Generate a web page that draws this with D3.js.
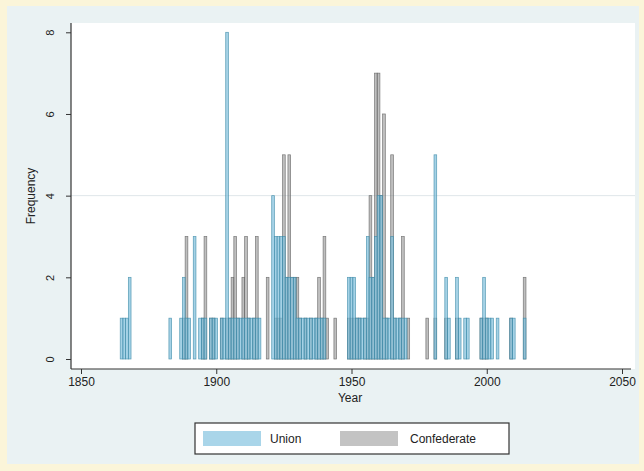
<!DOCTYPE html>
<html>
<head>
<meta charset="utf-8">
<script src="https://cdn.jsdelivr.net/npm/d3@7"></script>
<style>
  html, body { margin: 0; padding: 0; background: #fbf5d9; }
  svg { display: block; }
  text { font-family: "Liberation Sans", Arial, sans-serif; fill: #222; }
</style>
</head>
<body>
<svg id="chart" width="644" height="471"></svg>
<script>
// Dedication year of each monument, counted per year for each side
const years = [1865,1866,1867,1868,1883,1887,1888,1889,1890,1892,1894,1895,1896,1898,1899,1900,
  1902,1903,1904,1905,1906,1907,1908,1909,1910,1911,1912,1913,1914,1915,1916,1919,
  1921,1922,1923,1924,1925,1926,1927,1928,1929,1930,1931,1932,1933,1934,1935,1936,1937,1938,1939,1940,1941,1944,
  1949,1950,1951,1952,1953,1954,1955,1956,1957,1958,1959,1960,1961,1962,1963,1964,1965,1966,1967,1968,1969,1970,1971,
  1978,1981,1985,1986,1989,1990,1992,1993,1998,1999,2000,2001,2002,2004,2009,2010,2014];
const unionCounts = [1,1,1,2,1,1,2,1,1,3,1,1,1,1,1,1,
  1,1,8,1,1,1,1,1,1,1,1,1,1,1,1,0,
  4,3,3,3,3,2,2,2,2,1,1,1,1,1,1,1,1,1,1,1,0,0,
  2,2,2,1,1,1,1,3,2,2,3,4,4,1,1,1,3,1,1,1,1,1,0,
  0,5,2,1,2,1,1,1,1,2,1,1,1,1,1,1,1];
const confederateCounts = [0,0,0,0,0,0,1,3,0,0,0,1,3,1,1,0,
  1,0,1,1,2,3,1,0,2,3,1,0,1,3,0,2,
  0,1,1,1,5,2,5,2,2,2,1,0,1,0,1,0,1,2,1,3,1,1,
  1,1,1,1,1,0,1,1,4,2,7,7,4,6,1,0,5,1,0,1,3,0,1,
  1,1,1,0,1,0,0,0,1,1,1,0,0,0,1,0,2];
const xTicks = [1850, 1900, 1950, 2000, 2050];
const yTicks = [0, 2, 4, 6, 8];
const seriesNames = ["Union", "Confederate"];

const svg = d3.select("#chart");
const W = 644, H = 471;

// graph region
svg.append("rect").attr("x", 7).attr("y", 6).attr("width", W - 12).attr("height", H - 13)
  .attr("fill", "#eaf2f3");
// plot region
const plotL = 71, plotR = 635, plotT = 23, plotB = 369;
svg.append("rect").attr("x", plotL).attr("y", plotT).attr("width", plotR - plotL).attr("height", plotB - plotT)
  .attr("fill", "#ffffff");

const x = d3.scaleLinear().domain([1850, 2050]).range([81, 622]);
const y = d3.scaleLinear().domain([0, 8]).range([359, 32.3]);

// gridline
svg.append("line").attr("x1", plotL).attr("x2", plotR).attr("y1", y(4)).attr("y2", y(4))
  .attr("stroke", "#dfe6e9").attr("stroke-width", 1);

const bins = years.map((yr, i) => ({ year: yr, union: unionCounts[i], confederate: confederateCounts[i] }));

// Confederate bars underneath, translucent Union bars on top
const series = [
  { key: "confederate", fill: "#8a8a8a", fillOpacity: 0.55, stroke: "#666666", strokeOpacity: 0.85 },
  { key: "union", fill: "#7fbfdb", fillOpacity: 0.7, stroke: "#3a88a6", strokeOpacity: 0.8 }
];

series.forEach(s => {
  svg.append("g").selectAll("rect")
    .data(bins.filter(d => d[s.key] > 0))
    .join("rect")
    .attr("x", d => x(d.year - 0.5))
    .attr("width", d => x(d.year + 0.5) - x(d.year - 0.5))
    .attr("y", d => y(d[s.key]))
    .attr("height", d => y(0) - y(d[s.key]))
    .attr("fill", s.fill).attr("fill-opacity", s.fillOpacity)
    .attr("stroke", s.stroke).attr("stroke-opacity", s.strokeOpacity).attr("stroke-width", 0.7);
});

// y axis
const yAxis = svg.append("g").attr("transform", `translate(${plotL},0)`)
  .call(d3.axisLeft(y).tickValues(yTicks).tickSize(5).tickFormat(d3.format("d")));
yAxis.select(".domain").attr("d", `M0,${plotT}V${plotB}`).attr("stroke", "#333").attr("stroke-width", 1.2);
yAxis.selectAll(".tick line").attr("stroke", "#333");
yAxis.selectAll(".tick text")
  .attr("x", null).attr("y", null).attr("dy", null)
  .attr("transform", "translate(-17,0) rotate(-90)")
  .attr("text-anchor", "middle").style("font-size", "11px");

// x axis
const xAxis = svg.append("g").attr("transform", `translate(0,${plotB})`)
  .call(d3.axisBottom(x).tickValues(xTicks).tickSize(5).tickPadding(3).tickFormat(d3.format("d")));
xAxis.select(".domain").attr("d", `M${plotL},0H${plotR - 4}`).attr("stroke", "#333").attr("stroke-width", 1.2);
xAxis.selectAll(".tick line").attr("stroke", "#333");
xAxis.selectAll(".tick text").style("font-size", "12px");

// axis titles
svg.append("text").attr("transform", `translate(31,${(plotT + plotB) / 2}) rotate(-90)`)
  .attr("text-anchor", "middle").attr("dy", "0.35em").style("font-size", "12px").text("Frequency");
svg.append("text").attr("x", (plotL + plotR) / 2 - 3).attr("y", 402)
  .attr("text-anchor", "middle").style("font-size", "12px").text("Year");

// legend
const lg = svg.append("g");
lg.append("rect").attr("x", 195).attr("y", 423).attr("width", 314).attr("height", 31)
  .attr("fill", "#ffffff").attr("stroke", "#333").attr("stroke-width", 1.2);
const swatches = [
  { x: 203, fill: "#a9d5e9", label: seriesNames[0], tx: 270 },
  { x: 340, fill: "#c3c3c3", label: seriesNames[1], tx: 410 }
];
swatches.forEach(s => {
  lg.append("rect").attr("x", s.x).attr("y", 431).attr("width", 58).attr("height", 15).attr("fill", s.fill);
  lg.append("text").attr("x", s.tx).attr("y", 443).style("font-size", "12px").text(s.label);
});
</script>
</body>
</html>
